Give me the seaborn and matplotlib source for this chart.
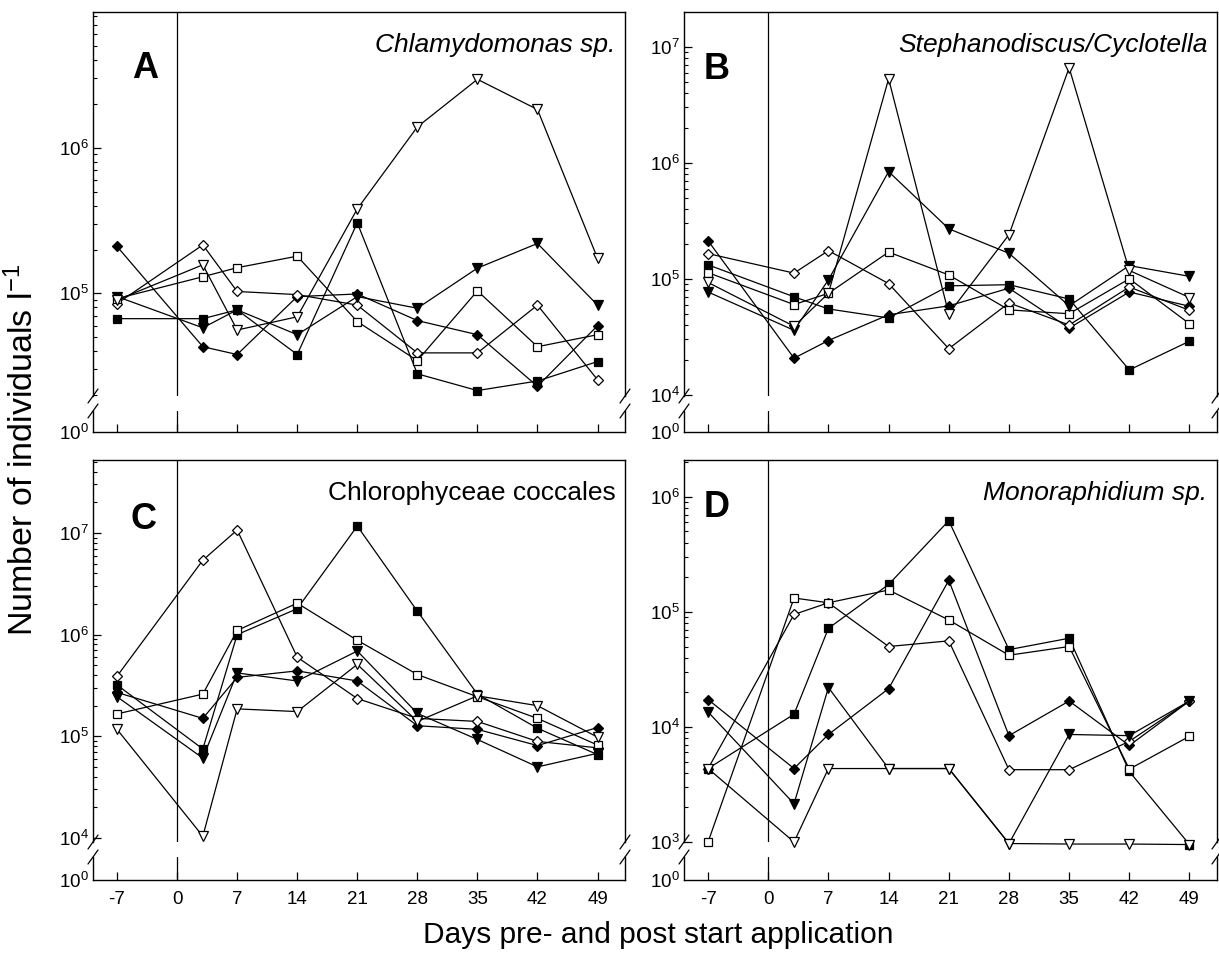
import numpy as np
import pandas as pd
import matplotlib
matplotlib.use("Agg")
import matplotlib.pyplot as plt
from matplotlib.ticker import FixedLocator, FuncFormatter, LogLocator, NullFormatter
import seaborn as sns

# ---------------- data ----------------
days = [-7, 3, 7, 14, 21, 28, 35, 42, 49]
xticks = [-7, 0, 7, 14, 21, 28, 35, 42, 49]

# A: Chlamydomonas sp.
A_fd = [2.1e5, 4.3e4, 3.8e4, 9.5e4, 9.9e4, 6.5e4, 5.2e4, 2.3e4, 6.0e4]
A_od = [8.5e4, 2.15e5, 1.03e5, 9.8e4, 8.3e4, 3.9e4, 3.9e4, 8.3e4, 2.55e4]
A_fs = [6.7e4, 6.7e4, 7.7e4, 3.8e4, 3.05e5, 2.8e4, 2.15e4, 2.5e4, 3.4e4]
A_os = [9.2e4, 1.3e5, 1.5e5, 1.8e5, 6.4e4, 3.45e4, 1.04e5, 4.3e4, 5.2e4]
A_ft = [9.5e4, 5.8e4, 7.7e4, 5.2e4, 9.5e4, 7.9e4, 1.49e5, 2.2e5, 8.3e4]
A_ot = [9.0e4, 1.57e5, 5.6e4, 6.9e4, 3.8e5, 1.39e6, 2.95e6, 1.83e6, 1.74e5]

# B: Stephanodiscus/Cyclotella
B_fd = [2.13e5, 2.07e4, 2.94e4, 4.9e4, 5.85e4, 8.3e4, 3.76e4, 7.7e4, 5.8e4]
B_od = [1.65e5, 1.12e5, 1.75e5, 9.1e4, 2.5e4, 6.2e4, 4.0e4, 8.5e4, 5.35e4]
B_fs = [1.32e5, 7.0e4, 5.5e4, 4.6e4, 8.7e4, 8.9e4, 6.7e4, 1.64e4, 2.9e4]
B_os = [1.13e5, 6.0e4, 7.5e4, 1.7e5, 1.08e5, 5.4e4, 5.0e4, 1.0e5, 4.1e4]
B_ft = [7.7e4, 3.6e4, 9.8e4, 8.4e5, 2.7e5, 1.66e5, 5.85e4, 1.3e5, 1.05e5]
B_ot = [9.3e4, 3.9e4, 7.5e4, 5.3e6, 5.0e4, 2.4e5, 6.6e6, 1.18e5, 6.9e4]

# C: Chlorophyceae coccales
C_fd = [2.7e5, 1.5e5, 3.8e5, 4.4e5, 3.5e5, 1.27e5, 1.17e5, 8.1e4, 1.22e5]
C_od = [3.9e5, 5.4e6, 1.07e7, 6.0e5, 2.35e5, 1.5e5, 1.4e5, 8.9e4, 7.7e4]
C_fs = [3.2e5, 7.5e4, 1.0e6, 1.8e6, 1.17e7, 1.7e6, 2.6e5, 1.2e5, 6.6e4]
C_os = [1.66e5, 2.6e5, 1.1e6, 2.04e6, 8.8e5, 4.05e5, 2.45e5, 1.5e5, 8.2e4]
C_ft = [2.45e5, 6.1e4, 4.2e5, 3.5e5, 6.9e5, 1.68e5, 9.3e4, 5.0e4, 6.8e4]
C_ot = [1.17e5, 1.04e4, 1.86e5, 1.75e5, 5.1e5, 1.4e5, 2.5e5, 2.0e5, 9.8e4]

# D: Monoraphidium sp.
D_fd = [1.73e4, 4.35e3, 8.6e3, 2.15e4, 1.88e5, 8.4e3, 1.68e4, 6.9e3, 1.68e4]
D_od = [4.35e3, 9.5e4, 1.2e5, 5.0e4, 5.6e4, 4.25e3, 4.25e3, 7.5e3, 1.68e4]
D_fs = [4.35e3, 1.29e4, 7.2e4, 1.73e5, 6.2e5, 4.7e4, 5.9e4, 4.1e3, 9.5e2]
D_os = [1.0e3, 1.32e5, 1.2e5, 1.55e5, 8.5e4, 4.2e4, 5.0e4, 4.3e3, 8.3e3]
D_ft = [1.35e4, 2.15e3, 2.2e4, 4.35e3, 4.35e3, 9.7e2, 8.6e3, 8.4e3, 1.68e4]
D_ot = [4.35e3, 1.0e3, 4.35e3, 4.35e3, 4.35e3, 9.7e2, 9.6e2, 9.6e2, 9.5e2]

titles = ["Chlamydomonas sp.", "Stephanodiscus/Cyclotella",
          "Chlorophyceae coccales", "Monoraphidium sp."]
title_italic = [True, True, False, True]
letters = ["A", "B", "C", "D"]
xlabel = "Days pre- and post start application"
ylabel = "Number of individuals l$^{-1}$"

# ---------------- style ----------------
sns.set_style("ticks")
plt.rcParams["font.family"] = ["Liberation Sans", "DejaVu Sans"]
plt.rcParams["mathtext.fontset"] = "custom"
plt.rcParams["mathtext.rm"] = "Liberation Sans"
plt.rcParams["mathtext.it"] = "Liberation Sans:italic"
plt.rcParams["mathtext.bf"] = "Liberation Sans:bold"
plt.rcParams["axes.unicode_minus"] = False
for k in ("text.color", "axes.labelcolor", "xtick.color", "ytick.color", "axes.edgecolor"):
    plt.rcParams[k] = "black"

W, H = 1219, 960
fig = plt.figure(figsize=(W / 100, H / 100), dpi=100)


def box(x0, y0, x1, y1):
    return [x0 / W, 1 - y1 / H, (x1 - x0) / W, (y1 - y0) / H]


panels = [
    dict(data=[A_fd, A_od, A_fs, A_os, A_ft, A_ot], x=(93, 625), y=(12, 396, 411, 432),
         ylog=(4.295, 6.932), letter_pos=(0.098, 0.852), bottom=False),
    dict(data=[B_fd, B_od, B_fs, B_os, B_ft, B_ot], x=(684, 1217), y=(12, 396, 411, 432),
         ylog=(3.99, 7.30), letter_pos=(0.062, 0.85), bottom=False),
    dict(data=[C_fd, C_od, C_fs, C_os, C_ft, C_ot], x=(93, 625), y=(460, 842, 857, 880),
         ylog=(3.96, 7.718), letter_pos=(0.094, 0.844), bottom=True),
    dict(data=[D_fd, D_od, D_fs, D_os, D_ft, D_ot], x=(684, 1217), y=(460, 842, 857, 880),
         ylog=(3.0, 6.32), letter_pos=(0.062, 0.875), bottom=True),
]

styles = [
    dict(marker="D", markersize=4.8, markerfacecolor="black"),
    dict(marker="D", markersize=4.8, markerfacecolor="white"),
    dict(marker="s", markersize=6.3, markerfacecolor="black"),
    dict(marker="s", markersize=6.3, markerfacecolor="white"),
    dict(marker="v", markersize=7.0, markerfacecolor="black"),
    dict(marker="v", markersize=7.0, markerfacecolor="white"),
]

XLIM = (-9.8, 52.2)
TICKFS = 13.5
LW = 0.9


def brk(ax, at_top, wpx, hpx):
    dx, dy = 5.0 / wpx, 7.0 / hpx
    y0 = 1.0 if at_top else 0.0
    for x0 in (0.0, 1.0):
        ax.plot([x0 - dx, x0 + dx], [y0 - dy, y0 + dy], transform=ax.transAxes,
                color="black", lw=LW, clip_on=False)


for i, p in enumerate(panels):
    x0, x1 = p["x"]
    yt, yb, lt, lb = p["y"]
    ax = fig.add_axes(box(x0, yt, x1, yb))
    axl = fig.add_axes(box(x0, lt, x1, lb))

    for series, st in zip(p["data"], styles):
        df = pd.DataFrame({"day": days, "n": series})
        sns.lineplot(data=df, x="day", y="n", ax=ax, color="black", linewidth=LW,
                     markeredgecolor="black", markeredgewidth=0.9, **st)
    for ln in ax.lines:
        ln.set_clip_on(False)

    ax.set_yscale("log")
    ax.set_xlim(*XLIM)
    ax.set_ylim(10 ** p["ylog"][0], 10 ** p["ylog"][1])
    majors = [10.0 ** k for k in range(int(np.floor(p["ylog"][0])), int(np.ceil(p["ylog"][1])) + 1)]
    ax.yaxis.set_major_locator(FixedLocator(majors))
    ax.yaxis.set_major_formatter(FuncFormatter(lambda v, pos: r"$10^{%d}$" % round(np.log10(v))))
    ax.yaxis.set_minor_locator(LogLocator(base=10, subs=np.arange(2, 10), numticks=20))
    ax.yaxis.set_minor_formatter(NullFormatter())
    ax.tick_params(axis="y", which="major", direction="in", length=6, width=0.9,
                   labelsize=TICKFS, right=False, pad=3)
    ax.tick_params(axis="y", which="minor", direction="in", length=3, width=0.8, right=False)
    ax.tick_params(axis="x", which="both", bottom=False, top=False, labelbottom=False)
    ax.spines["bottom"].set_visible(False)
    for s in ("left", "right", "top"):
        ax.spines[s].set_visible(True)
        ax.spines[s].set_linewidth(1.0)
    ax.set_xlabel("")
    ax.set_ylabel("")
    ax.axvline(0, color="black", lw=LW)

    # lower strip with 10^0
    axl.set_xlim(*XLIM)
    axl.set_ylim(0, 1)
    axl.spines["top"].set_visible(False)
    for s in ("left", "right", "bottom"):
        axl.spines[s].set_visible(True)
        axl.spines[s].set_linewidth(1.0)
    axl.set_yticks([0])
    axl.set_yticklabels([r"$10^{0}$"])
    axl.tick_params(axis="y", direction="in", length=0, labelsize=TICKFS, pad=3)
    axl.set_xticks(xticks)
    axl.tick_params(axis="x", direction="in", length=6, width=0.9, labelsize=TICKFS,
                    labelbottom=p["bottom"], pad=8)
    axl.axvline(0, color="black", lw=LW)

    brk(ax, False, x1 - x0, yb - yt)
    brk(axl, True, x1 - x0, lb - lt)

    ax.text(p["letter_pos"][0], p["letter_pos"][1], letters[i], transform=ax.transAxes,
            fontsize=26, fontweight="bold", ha="center", va="center")
    ax.text(0.982, 1 - 33.0 / (yb - yt), titles[i], transform=ax.transAxes,
            fontsize=19, style="italic" if title_italic[i] else "normal",
            ha="right", va="center")

fig.text(23 / W, 1 - 450 / H, ylabel, rotation=90, ha="center", va="center", fontsize=24.5)
fig.text(658 / W, 1 - 935 / H, xlabel, ha="center", va="center", fontsize=21.5)

fig.savefig("out.png", dpi=100)
